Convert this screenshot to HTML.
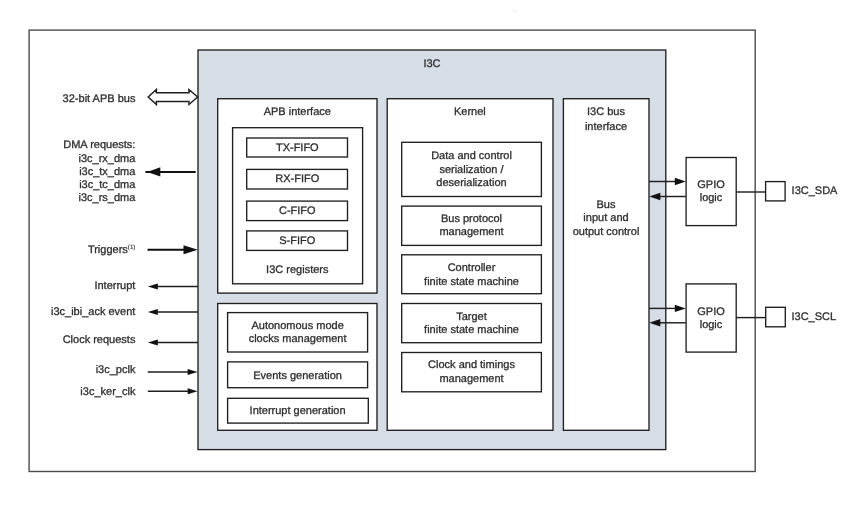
<!DOCTYPE html>
<html>
<head>
<meta charset="utf-8">
<title>I3C block diagram</title>
<style>
html,body{margin:0;padding:0;background:#fff;}
body{width:851px;height:505px;overflow:hidden;}
svg{display:block;filter:blur(0.4px);}
text{text-rendering:geometricPrecision;font-family:"Liberation Sans",sans-serif;font-size:11px;fill:#2e2e2e;stroke:#2e2e2e;stroke-width:0.3px;}
.m{text-anchor:middle;}
.e{text-anchor:end;}
.b{fill:#fff;stroke:#1f1f1f;stroke-width:1.35;}
.l{stroke:#1f1f1f;stroke-width:1.45;fill:none;}
.t{stroke:#111;stroke-width:2;fill:none;}
.h{fill:#111;stroke:none;}
</style>
</head>
<body>
<svg width="851" height="505" viewBox="0 0 851 505">
<rect x="0" y="0" width="851" height="505" fill="#fff"/>
<!-- outer frame -->
<rect x="29.1" y="30.1" width="726.1" height="441.4" fill="#fff" stroke="#4d4d4d" stroke-width="1.4"/>
<rect x="513.6" y="11" width="2.6" height="0.9" fill="#d8d8d8"/>
<!-- I3C block -->
<rect x="198" y="50" width="467.8" height="399.6" fill="#d6dde5" stroke="#1f1f1f" stroke-width="1.35"/>
<text class="m" x="432" y="67">I3C</text>

<!-- APB interface -->
<rect class="b" x="217.7" y="98.7" width="159.3" height="194.4"/>
<text class="m" x="297.3" y="115">APB interface</text>
<rect class="b" x="232.6" y="127.7" width="130" height="156.1"/>
<rect class="b" x="246.7" y="138" width="100.8" height="19"/>
<text class="m" x="297.3" y="151">TX-FIFO</text>
<rect class="b" x="246.7" y="169.4" width="100.8" height="19.6"/>
<text class="m" x="297.3" y="182">RX-FIFO</text>
<rect class="b" x="246.7" y="201.1" width="100.8" height="19.5"/>
<text class="m" x="297.3" y="214">C-FIFO</text>
<rect class="b" x="246.7" y="230.9" width="100.8" height="19.5"/>
<text class="m" x="297.3" y="244">S-FIFO</text>
<text class="m" x="297.3" y="273">I3C registers</text>

<!-- lower left box -->
<rect class="b" x="217.7" y="303.5" width="159.3" height="126.8"/>
<rect class="b" x="227.6" y="312.6" width="140" height="39.4"/>
<text class="m" x="297.6" y="329">Autonomous mode</text>
<text class="m" x="297.6" y="342">clocks management</text>
<rect class="b" x="227.6" y="361.9" width="140" height="25.8"/>
<text class="m" x="297.6" y="379">Events generation</text>
<rect class="b" x="227.6" y="398.3" width="140.7" height="24.8"/>
<text class="m" x="297.6" y="414">Interrupt generation</text>

<!-- Kernel -->
<rect class="b" x="387.2" y="98.7" width="165.8" height="331.6"/>
<text class="m" x="469.9" y="115">Kernel</text>
<rect class="b" x="401.7" y="142.3" width="139.7" height="54.2"/>
<text class="m" x="471.5" y="159">Data and control</text>
<text class="m" x="471.5" y="173">serialization /</text>
<text class="m" x="471.5" y="186">deserialization</text>
<rect class="b" x="401.7" y="206.1" width="139.7" height="39.3"/>
<text class="m" x="471.5" y="222">Bus protocol</text>
<text class="m" x="471.5" y="235">management</text>
<rect class="b" x="401.7" y="254.8" width="139.7" height="38.9"/>
<text class="m" x="471.5" y="271">Controller</text>
<text class="m" x="471.5" y="285">finite state machine</text>
<rect class="b" x="401.7" y="303.5" width="139.7" height="39.2"/>
<text class="m" x="471.5" y="320">Target</text>
<text class="m" x="471.5" y="333">finite state machine</text>
<rect class="b" x="401.7" y="352.5" width="139.7" height="39.3"/>
<text class="m" x="471.5" y="368">Clock and timings</text>
<text class="m" x="471.5" y="382">management</text>

<!-- I3C bus interface -->
<rect class="b" x="563.4" y="98.7" width="85.6" height="331.6"/>
<text class="m" x="606" y="115">I3C bus</text>
<text class="m" x="606" y="130">interface</text>
<text class="m" x="606" y="208">Bus</text>
<text class="m" x="606" y="221">input and</text>
<text class="m" x="606" y="235">output control</text>

<!-- GPIO 1 -->
<rect class="b" x="686.1" y="157.5" width="50.1" height="68.1"/>
<text class="m" x="711" y="188">GPIO</text>
<text class="m" x="711" y="201">logic</text>
<line class="l" x1="736.3" y1="192" x2="765.6" y2="192"/>
<rect class="b" x="765.6" y="181.6" width="19.5" height="19.3"/>
<text x="791.6" y="194">I3C_SDA</text>
<line class="l" x1="649" y1="181.5" x2="677" y2="181.5"/>
<polygon class="h" points="685.8,181.5 674.8,177.8 674.8,185.2"/>
<line class="l" x1="658" y1="196.5" x2="685.8" y2="196.5"/>
<polygon class="h" points="649.3,196.5 660.3,192.8 660.3,200.2"/>

<!-- GPIO 2 -->
<rect class="b" x="686.1" y="283.9" width="50.1" height="68.2"/>
<text class="m" x="711" y="315">GPIO</text>
<text class="m" x="711" y="328">logic</text>
<line class="l" x1="736.3" y1="317.6" x2="765.7" y2="317.6"/>
<rect class="b" x="765.7" y="307.3" width="19.6" height="19.5"/>
<text x="791.5" y="320">I3C_SCL</text>
<line class="l" x1="649" y1="308.4" x2="677" y2="308.4"/>
<polygon class="h" points="685.8,308.4 674.8,304.7 674.8,312.1"/>
<line class="l" x1="658" y1="322.8" x2="685.8" y2="322.8"/>
<polygon class="h" points="649.3,322.8 660.3,319.1 660.3,326.5"/>

<!-- left labels -->
<text class="e" x="135.4" y="102">32-bit APB bus</text>
<!-- double arrow -->
<polygon points="148.2,97 156.4,89.5 156.4,92.7 189,92.7 189,89.5 197.6,97 189,104.5 189,101.4 156.4,101.4 156.4,104.5" fill="#fff" stroke="#1f1f1f" stroke-width="1.45" stroke-linejoin="miter"/>

<text class="e" x="135.4" y="148">DMA requests:</text>
<text class="e" x="135.4" y="162">i3c_rx_dma</text>
<text class="e" x="135.4" y="175">i3c_tx_dma</text>
<text class="e" x="135.4" y="188">i3c_tc_dma</text>
<text class="e" x="135.4" y="201">i3c_rs_dma</text>
<line class="t" x1="145.4" y1="171.9" x2="195.7" y2="171.9"/>
<polygon class="h" points="147.2,171.9 160.3,167.3 160.3,176.5"/>

<text class="e" x="135.4" y="253">Triggers<tspan font-size="6.2" dy="-4.4" fill="#333" stroke-width="0.15">(1)</tspan></text>
<line class="t" x1="147.5" y1="249.7" x2="186" y2="249.7"/>
<polygon class="h" points="197.8,249.7 183.5,245.2 183.5,254.2"/>

<text class="e" x="135.4" y="289">Interrupt</text>
<line class="l" x1="155" y1="286.5" x2="198" y2="286.5"/>
<polygon class="h" points="147.8,286.5 157.8,283.5 157.8,289.5"/>

<text class="e" x="135.4" y="315">i3c_ibi_ack event</text>
<line class="l" x1="155" y1="311.9" x2="198" y2="311.9"/>
<polygon class="h" points="147.8,311.9 157.8,308.9 157.8,314.9"/>

<text class="e" x="135.4" y="343">Clock requests</text>
<line class="l" x1="155" y1="342.5" x2="198" y2="342.5"/>
<polygon class="h" points="147.8,342.5 157.8,339.5 157.8,345.5"/>

<text class="e" x="135.4" y="373">i3c_pclk</text>
<line class="l" x1="147.8" y1="372" x2="190" y2="372"/>
<polygon class="h" points="197.6,372 187.6,369 187.6,375"/>

<text class="e" x="135.4" y="395">i3c_ker_clk</text>
<line class="l" x1="147.8" y1="391.3" x2="190" y2="391.3"/>
<polygon class="h" points="197.6,391.3 187.6,388.3 187.6,394.3"/>
</svg>
</body>
</html>
